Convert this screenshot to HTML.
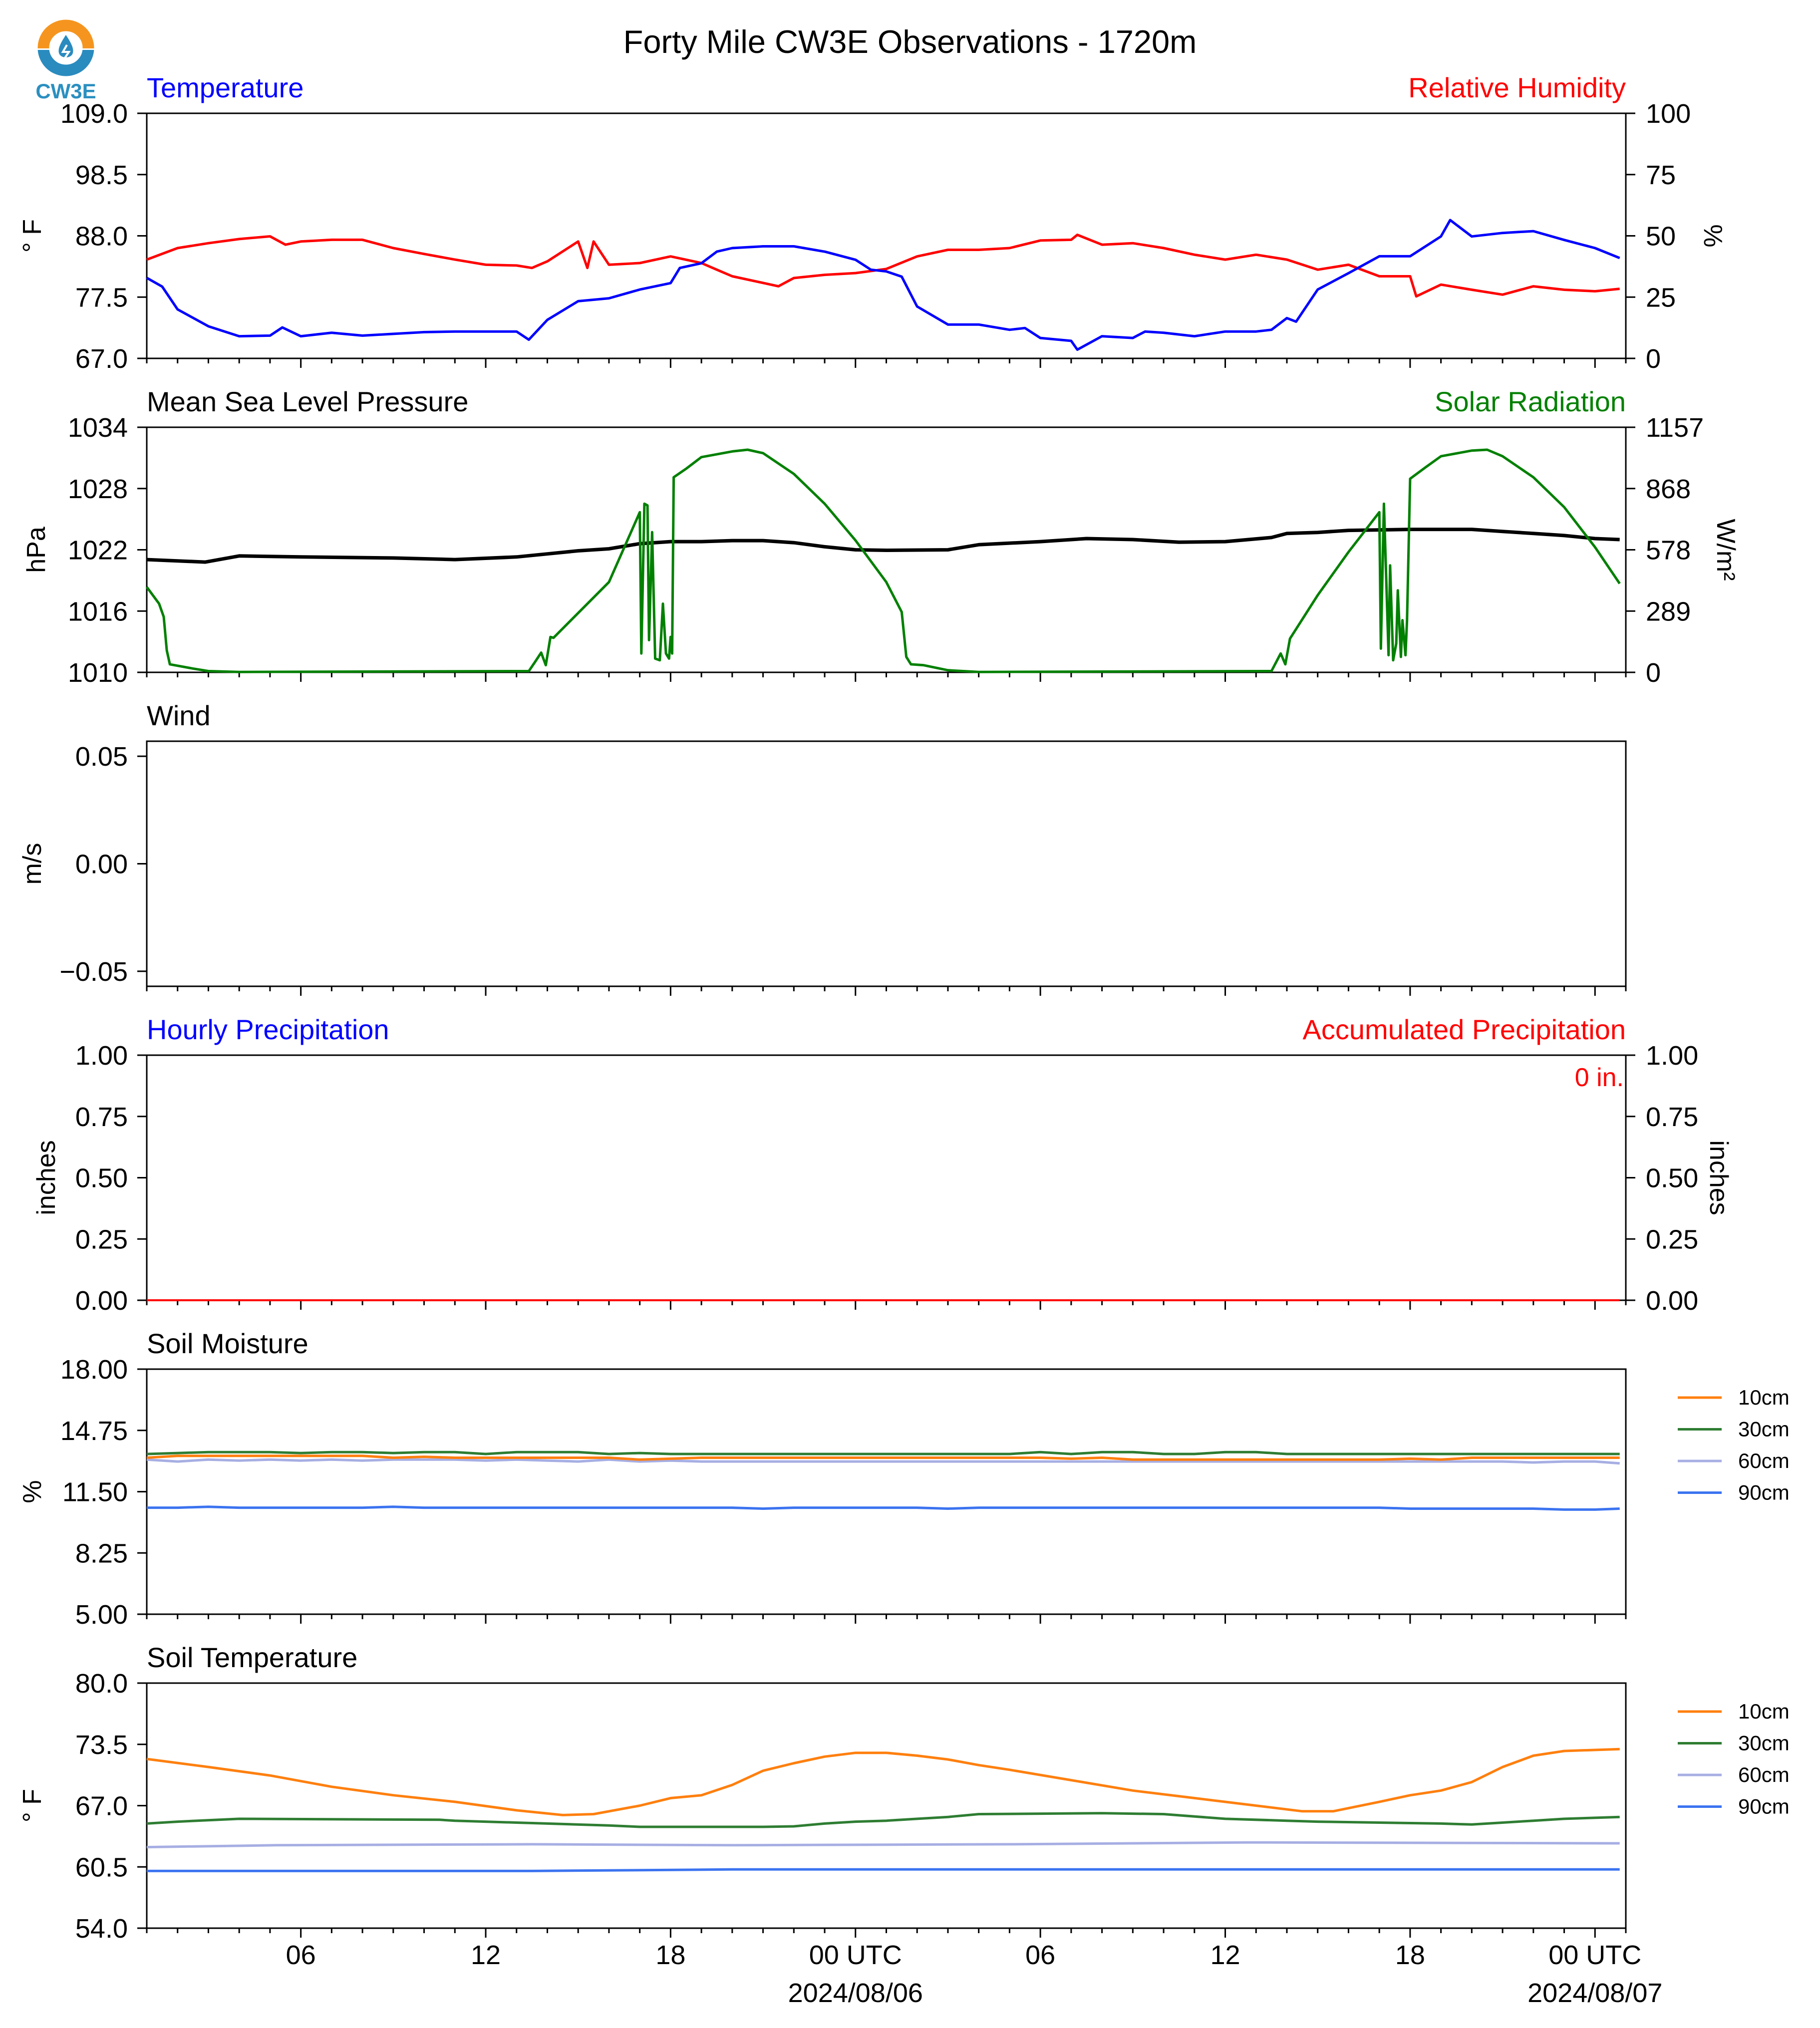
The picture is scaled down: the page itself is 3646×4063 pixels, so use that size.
<!DOCTYPE html>
<html><head><meta charset="utf-8"><title>Forty Mile CW3E Observations</title>
<style>
html,body{margin:0;padding:0;background:#fff;}
svg{display:block;font-family:"Liberation Sans",Arial,sans-serif;}
</style></head>
<body>
<svg id="chart" xmlns="http://www.w3.org/2000/svg" width="3646" height="4063" viewBox="0 0 3646 4063">
<rect x="0" y="0" width="3646" height="4063" fill="#fff"/>
<g>
  <clipPath id="topHalf"><rect x="60" y="30" width="150" height="67"/></clipPath>
  <clipPath id="botHalf"><rect x="60" y="100" width="150" height="70"/></clipPath>
  <circle cx="132" cy="96" r="45" fill="none" stroke="#f5951f" stroke-width="23" clip-path="url(#topHalf)"/>
  <circle cx="132" cy="96" r="45" fill="none" stroke="#2a8bbf" stroke-width="23" clip-path="url(#botHalf)"/>
  <path d="M132 70 C120 88 116 98 118 106 C121 118 143 118 146 106 C148 98 144 88 132 70 Z" fill="#2a8bbf"/>
  <path d="M134 90 L126 104 L138 104 L130 116" fill="none" stroke="#fff" stroke-width="4"/>
  <text x="132" y="197" text-anchor="middle" font-size="42" font-weight="bold" fill="#2b8fc0">CW3E</text>
</g>
<text x="1823" y="106" text-anchor="middle" font-size="65" fill="#000">Forty Mile CW3E Observations - 1720m</text>
<g id="plots"></g>
</svg>
<script>
// ---------- data (hours since 2024-08-05 01 UTC) ----------
const tempT = [0,0.5,1,2,3,4,4.4,5,6,7,8,9,10,11,12,12.4,13,14,15,16,17,17.3,18,18.5,19,20,21,22,23,23.5,24,24.5,25,26,27,28,28.5,29,30,30.2,31,32,32.4,33,34,35,36,36.5,37,37.3,38,39,40,41,42,42.3,43,44,45,46,47,47.8];
const tempV = [80.8,79.3,75.4,72.5,70.8,70.9,72.3,70.8,71.4,70.9,71.2,71.5,71.6,71.6,71.6,70.2,73.6,76.8,77.3,78.8,79.9,82.5,83.3,85.3,85.9,86.2,86.2,85.3,83.9,82.2,81.9,81.0,75.9,72.8,72.8,71.9,72.2,70.5,70.0,68.5,70.8,70.5,71.6,71.4,70.8,71.6,71.6,71.9,73.9,73.3,78.8,81.6,84.5,84.5,87.9,90.7,87.9,88.5,88.8,87.3,85.9,84.2];
const rhT = [0,1,2,3,4,4.5,5,6,7,8,9,10,11,12,12.5,13,14,14.3,14.5,15,16,17,18,18.5,19,20,20.5,21,22,23,24,25,26,27,28,29,30,30.2,31,32,33,34,35,36,37,38,39,40,41,41.2,42,43,44,45,46,47,47.8];
const rhV = [40.3,45,47,48.7,49.8,46.4,47.7,48.4,48.4,45,42.6,40.3,38.2,37.9,36.9,39.6,47.7,36.9,47.7,38.2,38.9,41.6,38.9,36.2,33.5,30.8,29.4,32.8,34.1,34.8,36.5,41.6,44.3,44.3,45,48.1,48.4,50.4,46.4,47,45,42.3,40.3,42.3,40.3,36.2,38.2,33.5,33.5,25.3,30.1,28,26,29.4,28,27.4,28.4];
const presT = [0,1.9,3,5,8,10,12,13,14,15,16,17,18,19,20,21,22,23,24,26,27,29,30.5,32,33.5,35,36.5,37,38,39,41,43,44,45,46,47,47.8];
const presV = [1021.04,1020.8,1021.4,1021.3,1021.2,1021.04,1021.3,1021.6,1021.9,1022.1,1022.6,1022.8,1022.8,1022.9,1022.9,1022.7,1022.3,1022.0,1021.95,1022.0,1022.5,1022.8,1023.1,1023.0,1022.75,1022.8,1023.2,1023.6,1023.7,1023.9,1024.0,1024.0,1023.8,1023.6,1023.4,1023.1,1023.0];
const solT = [0,0.4,0.55,0.65,0.75,1.5,2,3,12.4,12.6,12.8,12.95,13.1,13.2,15,16.0,16.05,16.15,16.25,16.3,16.4,16.5,16.65,16.75,16.85,16.95,17.0,17.05,17.1,17.5,18,19,19.5,20,21,22,23,24,24.5,24.65,24.8,25.2,26,27,36.5,36.8,36.95,37.1,38,39,40,40.05,40.15,40.3,40.35,40.45,40.55,40.6,40.7,40.75,40.85,40.9,41.0,41.5,42,43,43.5,44,45,46,47,47.8];
const solV = [403,324,262,104,38,18,6,2,6,49,93,34,167,163,426,756,89,796,788,152,662,65,57,324,89,65,167,89,921,961,1016,1043,1051,1035,937,796,623,426,285,73,38,34,10,2,6,89,38,159,364,568,756,112,796,81,505,57,136,387,73,246,81,246,914,968,1020,1047,1051,1020,921,780,591,419];
const soilT = [0,1,2,3,4,5,6,7,8,9,10,11,12,13,14,15,16,17,18,19,20,21,22,23,24,25,26,27,28,29,30,31,32,33,34,35,36,37,38,39,40,41,42,43,44,45,46,47,47.8];
const sm10 = [13.3,13.4,13.4,13.4,13.4,13.4,13.4,13.4,13.3,13.35,13.3,13.3,13.3,13.3,13.3,13.3,13.2,13.25,13.3,13.3,13.3,13.3,13.3,13.3,13.3,13.3,13.3,13.3,13.3,13.3,13.25,13.3,13.2,13.2,13.2,13.2,13.2,13.2,13.2,13.2,13.2,13.25,13.2,13.3,13.3,13.3,13.3,13.3,13.3];
const sm30 = [13.5,13.55,13.6,13.6,13.6,13.55,13.6,13.6,13.55,13.6,13.6,13.5,13.6,13.6,13.6,13.5,13.55,13.5,13.5,13.5,13.5,13.5,13.5,13.5,13.5,13.5,13.5,13.5,13.5,13.6,13.5,13.6,13.6,13.5,13.5,13.6,13.6,13.5,13.5,13.5,13.5,13.5,13.5,13.5,13.5,13.5,13.5,13.5,13.5];
const sm60 = [13.2,13.1,13.2,13.15,13.2,13.15,13.2,13.15,13.2,13.2,13.2,13.15,13.2,13.15,13.1,13.2,13.1,13.15,13.1,13.1,13.1,13.1,13.1,13.1,13.1,13.1,13.1,13.1,13.1,13.1,13.1,13.1,13.1,13.1,13.1,13.1,13.1,13.1,13.1,13.1,13.1,13.1,13.1,13.1,13.1,13.05,13.1,13.1,13.0];
const sm90 = [10.65,10.65,10.7,10.65,10.65,10.65,10.65,10.65,10.7,10.65,10.65,10.65,10.65,10.65,10.65,10.65,10.65,10.65,10.65,10.65,10.6,10.65,10.65,10.65,10.65,10.65,10.6,10.65,10.65,10.65,10.65,10.65,10.65,10.65,10.65,10.65,10.65,10.65,10.65,10.65,10.65,10.6,10.6,10.6,10.6,10.6,10.55,10.55,10.6];
const stT = [0,2,4,6,8,10,12,13.5,14.5,16,17,18,19,20,21,22,23,24,25,26,27,28,30,32,34,36,37.5,38.5,40,41,42,43,44,45,46,47.8];
const st10 = [71.95,71.1,70.2,69.0,68.1,67.4,66.5,66.0,66.1,67.0,67.8,68.1,69.2,70.7,71.5,72.2,72.6,72.6,72.3,71.9,71.3,70.8,69.7,68.6,67.8,67.0,66.4,66.4,67.4,68.1,68.6,69.5,71.1,72.3,72.8,73.0];
const st2T = [0,1,3,9.5,10,12,13,15,16,20,21,22,23,24,25,26,27,31,33,35,37,38,40,42,43,44,45,46,47.8];
const st30 = [65.1,65.3,65.6,65.5,65.4,65.2,65.1,64.9,64.75,64.75,64.8,65.1,65.3,65.4,65.6,65.8,66.1,66.2,66.1,65.6,65.4,65.3,65.2,65.1,65.0,65.2,65.4,65.6,65.8];
const st3T = [0,4.2,12.5,19,28,35.7,47.8];
const st60 = [62.6,62.8,62.9,62.8,62.9,63.1,63.0];
const st90 = [60.07,60.07,60.07,60.23,60.23,60.23,60.23];
const xMajorHours = [5,11,17,23,29,35,41,47];
const xMajorLabels = ["06","12","18","00 UTC","06","12","18","00 UTC"];
const xDateLabels = ["","","","2024/08/06","","","","2024/08/07"];
const tempTicks = ["67.0","77.5","88.0","98.5","109.0"];
const rhTicks = ["0","25","50","75","100"];
const presTicks = ["1010","1016","1022","1028","1034"];
const solTicks = ["0","289","578","868","1157"];
const windTicks = ["\u22120.05","0.00","0.05"];
const precipTicks = ["0.00","0.25","0.50","0.75","1.00"];
const smTicks = ["5.00","8.25","11.50","14.75","18.00"];
const stTicks = ["54.0","60.5","67.0","73.5","80.0"];

// ---------- layout ----------
const NS = "http://www.w3.org/2000/svg";
const X0 = 294, X1 = 3257, TMAX = 48, PH = 491;
const tops = [227, 856, 1485, 2114, 2743, 3372];
const FS = 54;
const root = document.getElementById('plots');
function xs(t){ return X0 + t / TMAX * (X1 - X0); }
function ys(top, lo, hi){ return v => top + PH - (v - lo) / (hi - lo) * PH; }
function mk(tag, attrs, parent){
  const e = document.createElementNS(NS, tag);
  for (const k in attrs) e.setAttribute(k, attrs[k]);
  (parent || root).appendChild(e);
  return e;
}
function txt(s, attrs, parent){ const e = mk('text', attrs, parent); e.textContent = s; return e; }
function series(ts, vs, y, color, w, name){
  let d = '';
  for (let i = 0; i < ts.length; i++) d += (i ? 'L' : 'M') + xs(ts[i]).toFixed(1) + ' ' + y(vs[i]).toFixed(1);
  const p = mk('path', {d: d, fill: 'none', stroke: color, 'stroke-width': w, 'stroke-linejoin': 'round'});
  
  
  return p;
}
function frame(i, name){
  const g = mk('g', {});
  
  
  mk('rect', {x: X0, y: tops[i], width: X1 - X0, height: PH, fill: 'none', stroke: '#000', 'stroke-width': 3}, g);
  const by = tops[i] + PH;
  for (let h = 0; h <= TMAX; h++) {
    const major = xMajorHours.indexOf(h) >= 0;
    mk('line', {x1: xs(h), x2: xs(h), y1: by, y2: by + (major ? 19 : 10), stroke: '#000', 'stroke-width': 3}, g);
  }
  return g;
}
function yTicks(i, labels, side, color, name){
  const g = mk('g', {});
  
  
  const n = labels.length;
  labels.forEach((s, k) => {
    const y = tops[i] + PH - k / (n - 1) * PH;
    if (side === 'left') {
      mk('line', {x1: X0 - 19, x2: X0, y1: y, y2: y, stroke: '#000', 'stroke-width': 3}, g);
      txt(s, {x: X0 - 38, y: y + 19, 'text-anchor': 'end', 'font-size': FS, fill: color || '#000'}, g);
    } else {
      mk('line', {x1: X1, x2: X1 + 19, y1: y, y2: y, stroke: '#000', 'stroke-width': 3}, g);
      txt(s, {x: X1 + 40, y: y + 19, 'text-anchor': 'start', 'font-size': FS, fill: color || '#000'}, g);
    }
  });
}
function windTickSet(i){
  const y = ys(tops[i], -0.057, 0.057);
  const g = mk('g', {});
  
  
  [-0.05, 0, 0.05].forEach((v, k) => {
    mk('line', {x1: X0 - 19, x2: X0, y1: y(v), y2: y(v), stroke: '#000', 'stroke-width': 3}, g);
    txt(windTicks[k], {x: X0 - 38, y: y(v) + 19, 'text-anchor': 'end', 'font-size': FS}, g);
  });
}
function title(i, s, color, side, name){
  const e = txt(s, {x: side === 'right' ? X1 : X0, y: tops[i] - 32, 'text-anchor': side === 'right' ? 'end' : 'start', 'font-size': 56, fill: color});
  
  
}
function yLabel(i, s, x, rot, name){
  const cy = tops[i] + PH / 2;
  const e = txt(s, {x: x, y: cy, 'text-anchor': 'middle', 'font-size': 52, transform: 'rotate(' + rot + ' ' + x + ' ' + cy + ')'});
  
  
}
function legend(i, name){
  const g = mk('g', {});
  
  
  const cols = ['#ff7f0e', '#2e7d32', '#a6aee3', '#3b73f0'];
  const labs = ['10cm', '30cm', '60cm', '90cm'];
  for (let k = 0; k < 4; k++) {
    const y = tops[i] + 57 + k * 63.5;
    const ent = mk('g', {}, g);
    
    
    mk('line', {x1: 3361, x2: 3449, y1: y, y2: y, stroke: cols[k], 'stroke-width': 5}, ent);
    txt(labs[k], {x: 3482, y: y + 14, 'font-size': 42}, ent);
  }
}

// Panel 1: temperature / RH
frame(0, 'temperature-panel');
yTicks(0, tempTicks, 'left', '#000', 'temperature-y-ticks');
yTicks(0, rhTicks, 'right', '#000', 'humidity-y-ticks');
title(0, 'Temperature', '#0000ff', 'left', 'temperature-title');
title(0, 'Relative Humidity', '#ff0000', 'right', 'humidity-title');
yLabel(0, '\u00B0 F', 82, -90, 'temperature-y-axis-title');
yLabel(0, '%', 3414, 90, 'humidity-y-axis-title');
series(rhT, rhV, ys(tops[0], 0, 100), '#ff0000', 5, 'humidity-line');
series(tempT, tempV, ys(tops[0], 67, 109), '#0000ff', 5, 'temperature-line');

// Panel 2: pressure / solar
frame(1, 'pressure-panel');
yTicks(1, presTicks, 'left', '#000', 'pressure-y-ticks');
yTicks(1, solTicks, 'right', '#000', 'solar-y-ticks');
title(1, 'Mean Sea Level Pressure', '#000', 'left', 'pressure-title');
title(1, 'Solar Radiation', '#008000', 'right', 'solar-title');
yLabel(1, 'hPa', 90, -90, 'pressure-y-axis-title');
yLabel(1, 'W/m\u00B2', 3440, 90, 'solar-y-axis-title');
series(presT, presV, ys(tops[1], 1010, 1034), '#000', 7, 'pressure-line');
series(solT, solV, ys(tops[1], 0, 1157), '#008000', 5, 'solar-line');

// Panel 3: wind
frame(2, 'wind-panel');
windTickSet(2);
title(2, 'Wind', '#000', 'left', 'wind-title');
yLabel(2, 'm/s', 82, -90, 'wind-y-axis-title');

// Panel 4: precipitation
frame(3, 'precipitation-panel');
yTicks(3, precipTicks, 'left', '#000', 'hourly-precip-y-ticks');
yTicks(3, precipTicks, 'right', '#000', 'accum-precip-y-ticks');
title(3, 'Hourly Precipitation', '#0000ff', 'left', 'hourly-precip-title');
title(3, 'Accumulated Precipitation', '#ff0000', 'right', 'accum-precip-title');
yLabel(3, 'inches', 110, -90, 'precip-y-axis-title');
yLabel(3, 'inches', 3426, 90, 'accum-precip-y-axis-title');
(function(){
  const e = txt('0 in.', {x: X1 - 4, y: tops[3] + 62, 'text-anchor': 'end', 'font-size': 52, fill: '#ff0000'});
  
  
})();
series([0, 47.8], [0, 0], ys(tops[3], 0, 1), '#ff0000', 4, 'accum-precip-line');

// Panel 5: soil moisture
frame(4, 'soil-moisture-panel');
yTicks(4, smTicks, 'left', '#000', 'soil-moisture-y-ticks');
title(4, 'Soil Moisture', '#000', 'left', 'soil-moisture-title');
yLabel(4, '%', 82, -90, 'soil-moisture-y-axis-title');
const ySM = ys(tops[4], 5, 18);
series(soilT, sm60, ySM, '#a6aee3', 5, 'sm-60cm-line');
series(soilT, sm10, ySM, '#ff7f0e', 5, 'sm-10cm-line');
series(soilT, sm30, ySM, '#2e7d32', 5, 'sm-30cm-line');
series(soilT, sm90, ySM, '#3b73f0', 5, 'sm-90cm-line');
legend(4, 'soil-moisture-legend');

// Panel 6: soil temperature
frame(5, 'soil-temperature-panel');
yTicks(5, stTicks, 'left', '#000', 'soil-temperature-y-ticks');
title(5, 'Soil Temperature', '#000', 'left', 'soil-temperature-title');
yLabel(5, '\u00B0 F', 82, -90, 'soil-temperature-y-axis-title');
const yST = ys(tops[5], 54, 80);
series(stT, st10, yST, '#ff7f0e', 5, 'st-10cm-line');
series(st2T, st30, yST, '#2e7d32', 5, 'st-30cm-line');
series(st3T, st60, yST, '#a6aee3', 5, 'st-60cm-line');
series(st3T, st90, yST, '#3b73f0', 5, 'st-90cm-line');
legend(5, 'soil-temperature-legend');

// x tick labels
(function(){
  const g = mk('g', {});
  
  
  const by = tops[5] + PH;
  xMajorHours.forEach((h, k) => {
    txt(xMajorLabels[k], {x: xs(h), y: by + 72, 'text-anchor': 'middle', 'font-size': FS}, g);
    if (xDateLabels[k]) txt(xDateLabels[k], {x: xs(h), y: by + 148, 'text-anchor': 'middle', 'font-size': FS}, g);
  });
})();
</script>
</body></html>
